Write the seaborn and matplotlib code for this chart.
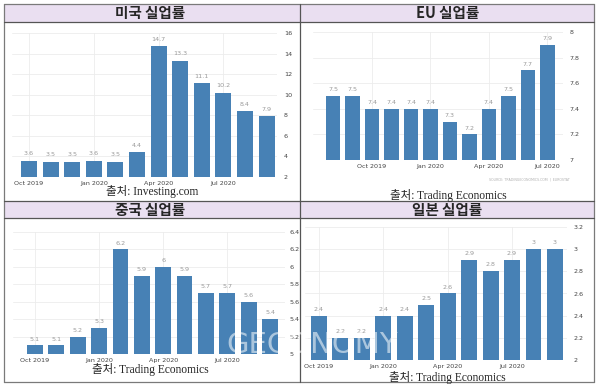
import pandas as pd
import seaborn as sns
import matplotlib
matplotlib.use('Agg')
import matplotlib.pyplot as plt
from matplotlib.patches import Rectangle
from matplotlib.lines import Line2D

# ---- data ----
months_oct = ["Oct 2019", "Nov 2019", "Dec 2019", "Jan 2020", "Feb 2020", "Mar 2020",
              "Apr 2020", "May 2020", "Jun 2020", "Jul 2020", "Aug 2020", "Sep 2020"]
months_aug = ["Aug 2019", "Sep 2019", "Oct 2019", "Nov 2019", "Dec 2019", "Jan 2020",
              "Feb 2020", "Mar 2020", "Apr 2020", "May 2020", "Jun 2020", "Jul 2020"]

us_rate = [3.6, 3.5, 3.5, 3.6, 3.5, 4.4, 14.7, 13.3, 11.1, 10.2, 8.4, 7.9]
eu_rate = [7.5, 7.5, 7.4, 7.4, 7.4, 7.4, 7.3, 7.2, 7.4, 7.5, 7.7, 7.9]
cn_rate = [5.1, 5.1, 5.2, 5.3, 6.2, 5.9, 6.0, 5.9, 5.7, 5.7, 5.6, 5.4]
jp_rate = [2.4, 2.2, 2.2, 2.4, 2.4, 2.5, 2.6, 2.9, 2.8, 2.9, 3.0, 3.0]

titles = ["미국 실업률", "EU 실업률", "중국 실업률", "일본 실업률"]
sources = ["출처: Investing.com", "출처: Trading Economics",
           "출처: Trading Economics", "출처: Trading Economics"]
shown_months = ("Oct", "Jan", "Apr", "Jul")

W, H = 600, 387
BAR = "#4781b5"
LAVENDER = "#eadff1"
LINE = "#7a7a7a"

sns.set_style("white")
plt.rcParams['font.family'] = ['DejaVu Sans', 'Noto Sans CJK KR']

fig = plt.figure(figsize=(W / 100, H / 100), dpi=100)


def rect(l, t, r, b):
    return [l / W, 1 - b / H, (r - l) / W, (b - t) / H]


def fline(x0, y0, x1, y1, color=LINE, lw=0.9):
    fig.add_artist(Line2D([x0 / W, x1 / W], [1 - y0 / H, 1 - y1 / H],
                          color=color, lw=lw, transform=fig.transFigure))


# table background: lavender header rows
for (l, t, r, b) in [(4, 4, 594, 22), (4, 201, 594, 218)]:
    fig.add_artist(Rectangle((l / W, 1 - b / H), (r - l) / W, (b - t) / H,
                             facecolor=LAVENDER, edgecolor="none",
                             transform=fig.transFigure, zorder=0))

panels = [
    # values, months, axes box (l, t, r, b), xlim, ylim, ytick step, ytick pad, title xy, caption xy
    (us_rate, months_oct, (12, 33, 277, 177), (-0.79, 11.48), (2, 16), 2, 5, (150, 13), (152, 192)),
    (eu_rate, months_aug, (313, 32, 563, 160), (-1.03, 11.8), (7, 8), 0.2, 5, (448, 13), (448, 195)),
    (cn_rate, months_oct, (13, 232, 285, 354), (-1.03, 11.7), (5, 6.4), 0.2, 3, (150, 210), (150, 370)),
    (jp_rate, months_oct, (305, 227, 567, 360), (-0.65, 11.56), (2, 3.2), 0.2, 5, (447, 210), (447, 377)),
]

for i, (vals, months, box, xlim, ylim, step, pad, tpos, cpos) in enumerate(panels):
    df = pd.DataFrame({"month": months, "rate": vals})
    ax = fig.add_axes(rect(*box))
    sns.barplot(data=df, x="month", y="rate", color=BAR, saturation=1,
                width=0.74, linewidth=0, ax=ax, zorder=2)
    ax.set_xlim(*xlim)
    ax.set_ylim(*ylim)
    n = int(round((ylim[1] - ylim[0]) / step))
    yt = [round(ylim[0] + k * step, 2) for k in range(n + 1)]
    ax.set_yticks(yt)
    ax.set_yticklabels([f"{v:g}" for v in yt])
    ax.yaxis.tick_right()
    xt = [k for k, m in enumerate(months) if m.startswith(shown_months)]
    ax.set_xticks(xt)
    ax.set_xticklabels([months[k] for k in xt])
    ax.tick_params(axis="both", length=0, labelsize=4.6, colors="#444444")
    ax.tick_params(axis="y", pad=pad)
    ax.tick_params(axis="x", pad=3)
    ax.set_xlabel("")
    ax.set_ylabel("")
    ax.grid(True, color="#ececec", lw=0.6, zorder=0)
    ax.set_axisbelow(True)
    for s in ax.spines.values():
        s.set_visible(False)
    off = (ylim[1] - ylim[0]) * 0.03
    for k, v in enumerate(vals):
        ax.text(k, v + off, f"{v:g}", ha="center", va="bottom",
                fontsize=4.6, color="#9a9a9a")

    fig.text(tpos[0] / W, 1 - tpos[1] / H, titles[i], ha="center", va="center",
             fontsize=10.5, fontweight="bold", family=['Noto Sans CJK KR'])
    fig.text(cpos[0] / W, 1 - cpos[1] / H, sources[i], ha="center", va="center",
             fontsize=8.3, family=['Liberation Serif', 'Noto Sans CJK KR'])

fig.text(570 / W, 1 - 180 / H, "SOURCE: TRADINGECONOMICS.COM  |  EUROSTAT",
         ha="right", va="center", fontsize=2.3, color="#b0b0b0")

# watermark
fig.text(312 / W, 1 - 345 / H, "GECONOMY", ha="center", va="center",
         fontsize=21, color="white", alpha=0.55, zorder=20)

# table lines
fline(4, 4, 594, 4)
fline(4, 382, 594, 382)
fline(4, 4, 4, 382)
fline(594, 4, 594, 382)
fline(300, 4, 300, 382, color="#555555")
fline(4, 22, 594, 22, color="#555555")
fline(4, 201, 594, 201, color="#555555")
fline(4, 218, 594, 218, color="#555555")

plt.savefig("out.png", dpi=100)
